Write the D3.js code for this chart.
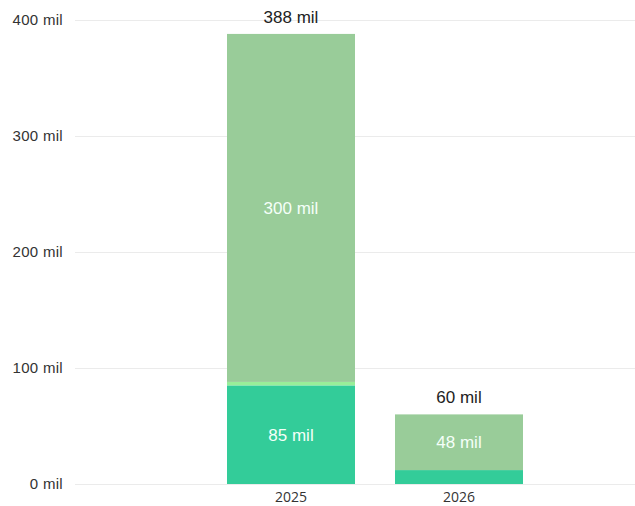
<!DOCTYPE html>
<html><head><meta charset="utf-8">
<script src="https://cdn.jsdelivr.net/npm/d3@7"></script>
<style>body{margin:0;background:#fff;font-family:"Liberation Sans",Arial,sans-serif;}</style>
</head><body><svg id="c" width="635" height="506"></svg>
<script>
const years = ["2025","2026"];
const seriesNames = ["a","b","c"];
const seriesA = [85, 12];
const seriesB = [3, 0];
const seriesC = [300, 48];
const totals = [388, 60];
const yTicks = [0,100,200,300,400];
const colors = ["#33cc99","#99ee99","#99cc99"];

const data = years.map((y,i)=>({year:y,a:seriesA[i],b:seriesB[i],c:seriesC[i]}));
const svg = d3.select("#c");
const y = d3.scaleLinear().domain([0,400]).range([484,20]);
const x = d3.scaleBand().domain(years).range([207,543]).paddingInner(40/168).paddingOuter(20/168);

svg.append("g").selectAll("line").data(yTicks).join("line")
  .attr("x1",75).attr("x2",635).attr("y1",d=>y(d)+0.5).attr("y2",d=>y(d)+0.5)
  .attr("stroke","#ebebeb").attr("stroke-width",1);
svg.append("g").selectAll("text").data(yTicks).join("text")
  .attr("x",63).attr("y",d=>y(d)).attr("dy","0.35em").attr("text-anchor","end")
  .attr("font-size",15).attr("fill","#333").attr("letter-spacing","0.3px").text(d=>d+" mil");

const stack = d3.stack().keys(seriesNames)(data);
svg.append("g").selectAll("g").data(stack).join("g").attr("fill",(d,i)=>colors[i])
  .selectAll("rect").data(d=>d).join("rect")
  .attr("x",d=>x(d.data.year)).attr("width",x.bandwidth())
  .attr("y",d=>y(d[1])).attr("height",d=>y(d[0])-y(d[1]));

const inner = [];
stack.forEach((s,si)=>s.forEach(d=>{const v=d[1]-d[0]; if(v>=20) inner.push({year:d.data.year,v,mid:(d[0]+d[1])/2});}));
svg.append("g").selectAll("text").data(inner).join("text")
  .attr("x",d=>x(d.year)+x.bandwidth()/2).attr("y",d=>y(d.mid)).attr("dy","0.35em")
  .attr("text-anchor","middle").attr("font-size",17).attr("fill","#f4fff8").text(d=>d.v+" mil");

svg.append("g").selectAll("text").data(years).join("text")
  .attr("x",(d)=>x(d)+x.bandwidth()/2).attr("y",(d,i)=>y(totals[i])-17).attr("dy","0.35em")
  .attr("text-anchor","middle").attr("font-size",17).attr("fill","#222").text((d,i)=>totals[i]+" mil");

svg.append("g").selectAll("text").data(years).join("text")
  .attr("x",d=>x(d)+x.bandwidth()/2).attr("y",497).attr("dy","0.35em")
  .attr("text-anchor","middle").attr("font-family","'Open Sans',sans-serif").attr("font-size",14).attr("fill","#333").text(d=>d);
</script></body></html>
